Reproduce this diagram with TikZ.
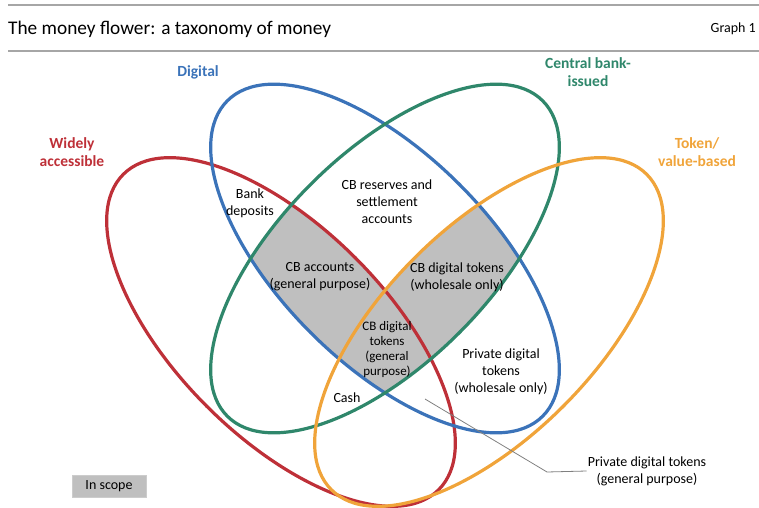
\documentclass[tikz,border=0pt]{standalone}
\usepackage{fontspec}
\setmainfont{Carlito}
\definecolor{cblue}{HTML}{3B73B9}
\definecolor{cgreen}{HTML}{2F876B}
\definecolor{cred}{HTML}{BE3038}
\definecolor{corange}{HTML}{F0A43A}
\definecolor{cshade}{HTML}{BFBFBF}
\definecolor{crule}{HTML}{A6A6A6}
\begin{document}
\begin{tikzpicture}[x=1pt,y=1pt,
  petal/.style={line width=3.2pt},
  inlabel/.style={align=center,inner sep=1pt,font=\fontsize{14}{17}\selectfont},
  smlabel/.style={align=center,inner sep=1pt,font=\fontsize{13}{15}\selectfont},
  catlabel/.style={align=center,inner sep=1pt,font=\fontsize{15.5}{18}\selectfont\bfseries},
  rulestyle/.style={draw=crule,line width=1.8pt}]
\useasboundingbox (0,0) rectangle (759,507);
% rules and title
\coordinate (r1a) at (8,502); \coordinate (r1b) at (759,502);
\coordinate (r2a) at (8,456); \coordinate (r2b) at (759,456);
\draw[rulestyle] (r1a) -- (r1b);
\draw[rulestyle] (r2a) -- (r2b);
\node[anchor=west,inner sep=0pt,font=\fontsize{19.3}{21}\selectfont] (title) at (8,478) {The money flower: a taxonomy of money};
\node[anchor=east,inner sep=0pt,font=\fontsize{14}{16}\selectfont] (graph) at (756,478) {Graph 1};
% ellipse centres
\coordinate (cb) at (385,248.5);
\coordinate (cr) at (281,175);
\coordinate (co) at (489,175);
% shading
\begin{scope}
  \clip[rotate around={-45:(cb)}] (cb) ellipse [x radius=223, y radius=105];
  \clip[rotate around={45:(cb)}] (cb) ellipse [x radius=223, y radius=105];
  \fill[cshade,rotate around={-45:(cr)}] (cr) ellipse [x radius=223, y radius=105];
  \fill[cshade,rotate around={45:(co)}] (co) ellipse [x radius=223, y radius=105];
\end{scope}
% outlines
\draw[petal,cred,rotate around={-45:(cr)}] (cr) ellipse [x radius=223, y radius=105];
\draw[petal,cblue,rotate around={-45:(cb)}] (cb) ellipse [x radius=223, y radius=105];
\draw[petal,cgreen,rotate around={45:(cb)}] (cb) ellipse [x radius=223, y radius=105];
\draw[petal,corange,rotate around={45:(co)}] (co) ellipse [x radius=223, y radius=105];
% category labels
\node[catlabel,text=cblue] (digital) at (198,435) {Digital};
\node[catlabel,text=cgreen] (cbissued) at (588,435) {Central bank-\\issued};
\node[catlabel,text=cred] (wide) at (72,355) {Widely\\accessible};
\node[catlabel,text=corange] (token) at (697,355) {Token/\\value-based};
% region labels
\node[inlabel] (reserves) at (387,305) {CB reserves and\\settlement\\accounts};
\node[inlabel] (bank) at (250,304) {Bank\\deposits};
\node[inlabel] (cbacc) at (320,230) {CB accounts\\(general purpose)};
\node[inlabel] (cbwhole) at (457,230) {CB digital tokens\\(wholesale only)};
\node[smlabel] (cbgen) at (387,157) {CB digital\\tokens\\(general\\purpose)};
\node[inlabel] (pwhole) at (501,135) {Private digital\\tokens\\(wholesale only)};
\node[inlabel] (cash) at (347,109) {Cash};
\node[inlabel] (pgen) at (647,36) {Private digital tokens\\(general purpose)};
% leader
\coordinate (lp) at (425,108);
\coordinate (lk) at (547,35);
\draw[gray,line width=0.8pt] (lp) -- (lk) -- (pgen.west);
% legend
\node[fill=cshade,draw=cshade!80!white,line width=0.8pt,minimum width=74pt,minimum height=22pt,inner sep=0pt,font=\fontsize{14}{16}\selectfont] (scope) at (109,21) {In scope};
\end{tikzpicture}
\end{document}
